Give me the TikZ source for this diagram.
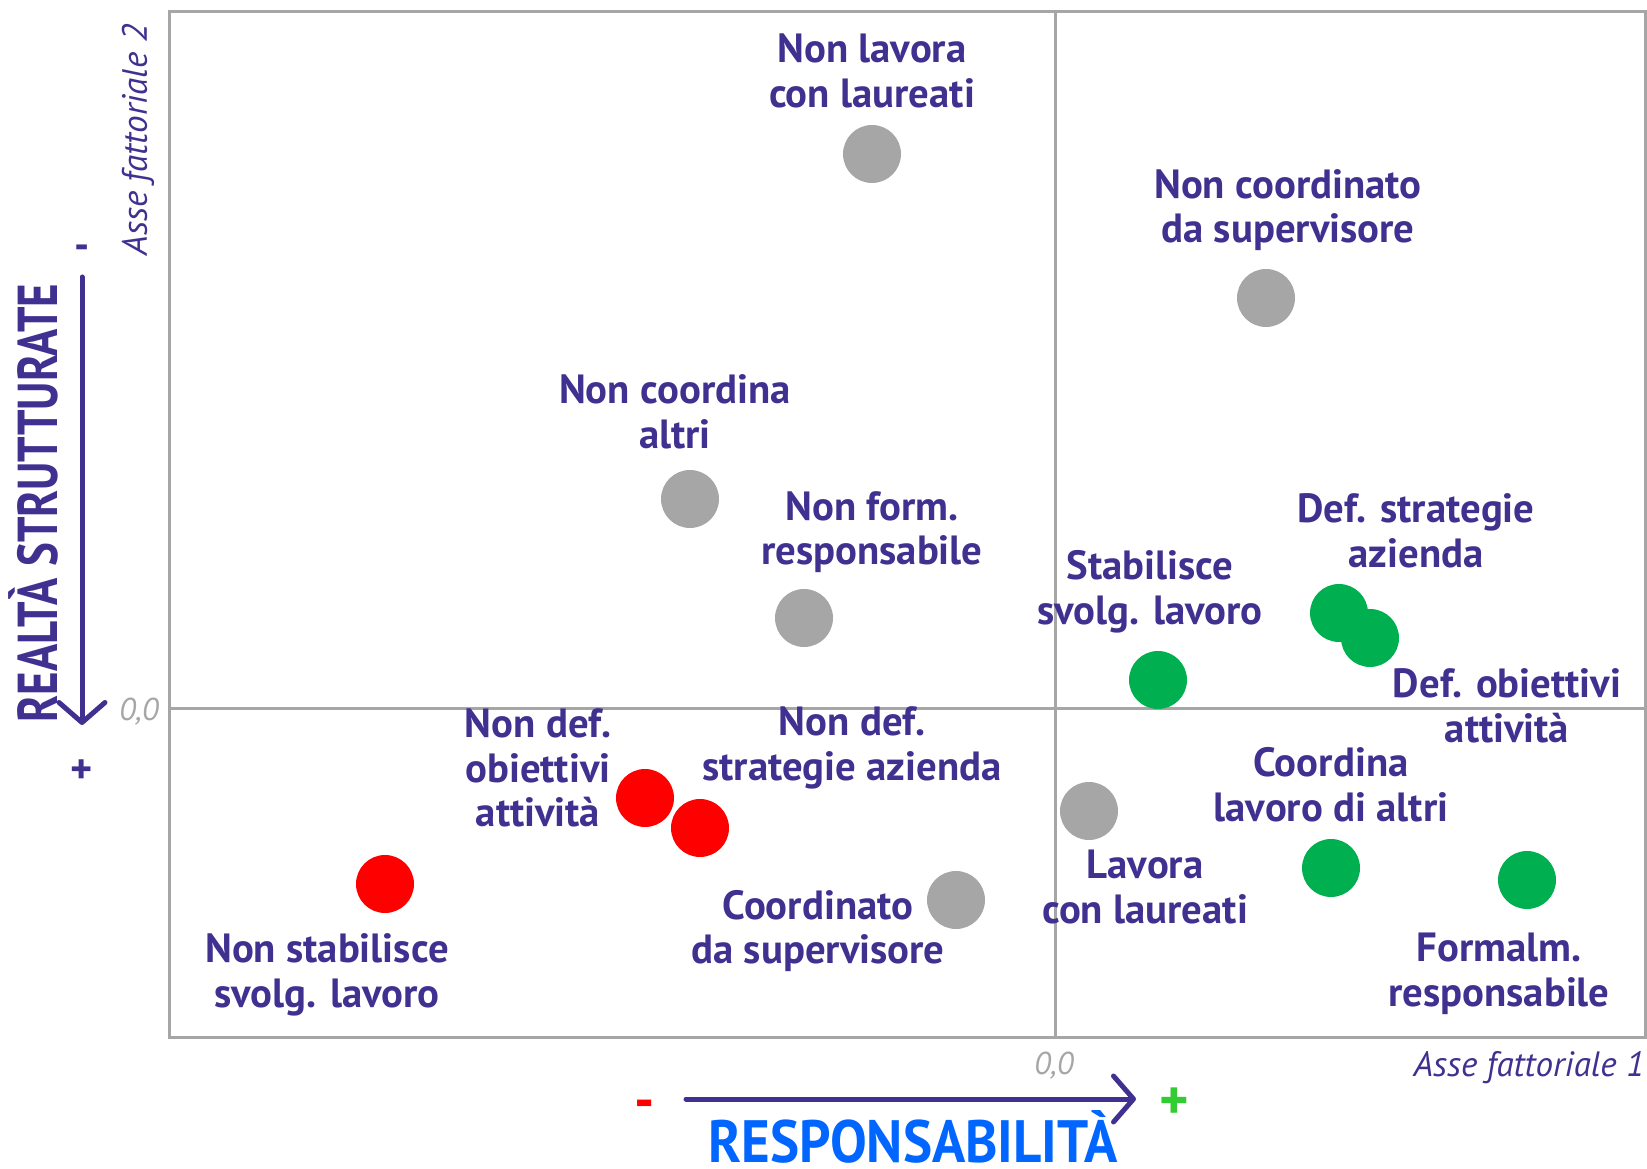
\documentclass[tikz,border=0pt]{standalone}
\usepackage{fontspec}
\setmainfont{PT Sans}
\newfontfamily\stretto[FakeStretch=0.92]{PT Sans}
\newfontfamily\strettob[FakeStretch=0.8]{PT Sans}
\usetikzlibrary{arrows.meta}
\definecolor{viola}{RGB}{64,49,144}
\definecolor{grigio}{RGB}{166,166,166}
\definecolor{verde}{RGB}{0,176,80}
\definecolor{rosso}{RGB}{255,0,0}
\definecolor{blu}{RGB}{0,102,255}
\definecolor{verdechiaro}{RGB}{51,204,51}

\begin{document}
\begin{tikzpicture}[x=0.1mm,y=-0.1mm,
  punto/.style={circle,inner sep=0pt,minimum size=5.8mm},
  etichetta/.style={text=viola,font=\bfseries\fontsize{11.6}{12.7}\selectfont,
    align=center,inner sep=0pt},
  asse/.style={text=viola,font=\itshape\fontsize{10}{12}\selectfont,inner sep=0pt},
  zero/.style={text=grigio,font=\itshape\fontsize{9}{11}\selectfont,inner sep=0pt},
  freccia/.style={viola,line width=0.5mm,line cap=round,
    -{Straight Barb[length=2mm,width=4.6mm,round]}}]

\useasboundingbox (0,0) rectangle (1647,1169);

% riquadro e assi
\draw[grigio,line width=0.3mm] (169,12) rectangle (1645,1037);
\draw[grigio,line width=0.3mm] (1055,12) -- (1055,1037);
\draw[grigio,line width=0.3mm] (169,709) -- (1645,709);

% punti
\node[punto,fill=grigio] (nlcl) at (872,154) {};
\node[punto,fill=grigio] (ncds) at (1266,298) {};
\node[punto,fill=grigio] (nca) at (690,499) {};
\node[punto,fill=grigio] (nfr) at (804,618) {};
\node[punto,fill=verde] (ssl) at (1158,680) {};
\node[punto,fill=verde] (dsa) at (1339,613) {};
\node[punto,fill=verde] (doa) at (1370,638) {};
\node[punto,fill=rosso] (ndoa) at (645,798) {};
\node[punto,fill=rosso] (ndsa) at (700,828) {};
\node[punto,fill=rosso] (nssl) at (385,884) {};
\node[punto,fill=grigio] (cds) at (956,900) {};
\node[punto,fill=grigio] (lcl) at (1089,811) {};
\node[punto,fill=verde] (cla) at (1331,868) {};
\node[punto,fill=verde] (fr) at (1527,880) {};

% etichette
\node[etichetta] (Lnlcl) at (872,71) {Non lavora\\con laureati};
\node[etichetta] (Lncds) at (1288,210) {Non coordinato\\da supervisore};
\node[etichetta] (Lnca) at (675,412) {Non coordina\\altri};
\node[etichetta] (Lnfr) at (872,532) {Non form.\\responsabile};
\node[etichetta] (Lssl) at (1150,592) {Stabilisce\\svolg. lavoro};
\node[etichetta] (Ldsa) at (1416,531) {Def. strategie\\azienda};
\node[etichetta] (Ldoa) at (1507,706) {Def. obiettivi\\attività};
\node[etichetta] (Lndoa) at (538,768) {Non def.\\obiettivi\\attività};
\node[etichetta] (Lndsa) at (852,748) {Non def.\\strategie azienda};
\node[etichetta] (Lnssl) at (327,975) {Non stabilisce\\svolg. lavoro};
\node[etichetta] (Lcds) at (818,931) {Coordinato\\da supervisore};
\node[etichetta] (Llcl) at (1145,887) {Lavora\\con laureati};
\node[etichetta] (Lcla) at (1331,785) {Coordina\\lavoro di altri};
\node[etichetta] (Lfr) at (1499,974) {Formalm.\\responsabile};

% assi fattoriali
\node[asse,rotate=90] (A2) at (138,140) {Asse fattoriale 2};
\node[asse,anchor=east] (A1) at (1645,1068) {Asse fattoriale 1};
\node[zero] (Z2) at (139,712) {0,0};
\node[zero] (Z1) at (1054,1066) {0,0};

% realta strutturate
\node[text=viola,rotate=90,font=\strettob\bfseries\fontsize{16}{20}\selectfont,inner sep=0pt]
  (RS) at (33,503) {REALTÀ STRUTTURATE};
\coordinate (V1) at (82,277);
\coordinate (V2) at (82,725);
\draw[freccia] (V1) -- (V2);
\node[text=viola,font=\bfseries\fontsize{12}{14}\selectfont] (Vm) at (82,252) {-};
\node[text=viola,font=\bfseries\fontsize{12}{14}\selectfont] (Vp) at (82,772) {+};

% responsabilita
\coordinate (H1) at (686,1099);
\coordinate (H2) at (1136,1099);
\draw[freccia] (H1) -- (H2);
\node[text=rosso,font=\bfseries\fontsize{16}{18}\selectfont] (Hm) at (645,1110) {-};
\node[text=verdechiaro,font=\bfseries\fontsize{16}{18}\selectfont] (Hp) at (1174,1104) {+};
\node[text=blu,font=\stretto\bfseries\fontsize{17}{20}\selectfont,inner sep=0pt,anchor=base]
  (R) at (913,1162) {RESPONSABILITÀ};

\end{tikzpicture}
\end{document}
